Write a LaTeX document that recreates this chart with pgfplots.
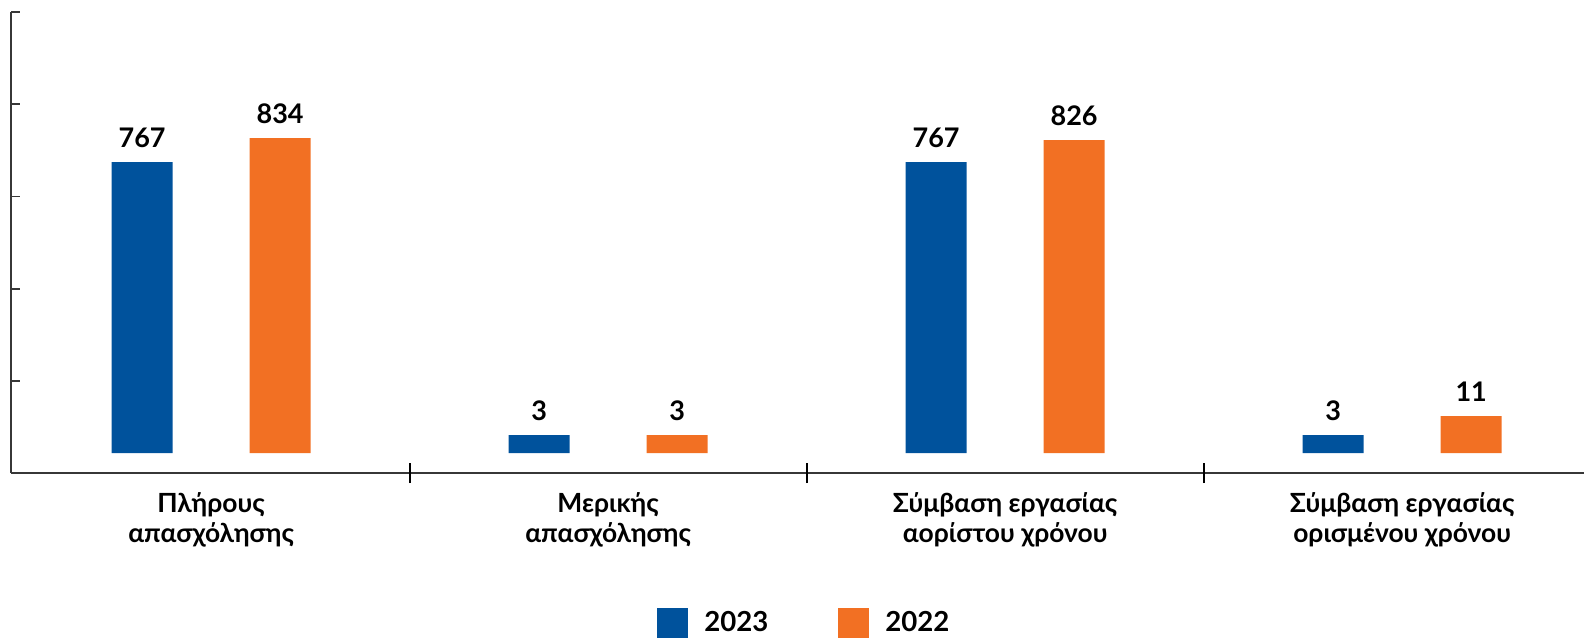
\documentclass[border=0pt]{standalone}
\usepackage{fontspec}
\setmainfont{Lato}
\usepackage{pgfplots}
\pgfplotsset{compat=1.18}

\definecolor{c2023}{RGB}{0,82,156}
\definecolor{c2022}{RGB}{242,112,35}
\definecolor{axisgray}{RGB}{55,55,55}

\begin{document}
\begin{tikzpicture}
\begin{axis}[
    scale only axis,
    width=786.5pt, height=230.5pt,
    xmin=-0.504, xmax=3.458,
    ymin=-20, ymax=441,
    axis x line*=bottom,
    axis y line*=left,
    axis line style={axisgray, line width=0.9pt},
    ytick={72,164.25,256.5,348.75,441},
    yticklabels={},
    ytick style={axisgray, line width=0.9pt},
    major tick length=4.5pt,
    tick align=inside,
    xtick={0,1,2,3},
    xticklabels={{Πλήρους\\απασχόλησης},{Μερικής\\απασχόλησης},{Σύμβαση εργασίας\\αορίστου χρόνου},{Σύμβαση εργασίας\\ορισμένου χρόνου}},
    xtick style={draw=none},
    extra x ticks={0.5,1.5,2.5},
    extra x tick labels={},
    extra x tick style={xtick style={draw=black, line width=1.1pt}, tick align=center, major tick length=10pt},
    xticklabel style={align=center, font=\bfseries\fontsize{13.2}{15}\selectfont, yshift=-1.5pt},
    ybar,
    bar width=30.5pt,
    point meta=explicit symbolic,
    nodes near coords,
    nodes near coords style={font=\bfseries\fontsize{13.5}{15}\selectfont, anchor=south, yshift=3.5pt, text=black},
    legend style={at={(0.505,-0.325)}, anchor=center, draw=none, legend columns=2,
        font=\bfseries\fontsize{13.8}{16}\selectfont,
        /tikz/every odd column/.append style={column sep=6pt},
        /tikz/every even column/.append style={column sep=33pt}},
]
\addplot[fill=c2023, draw=none, bar shift=-34.5pt,
    legend image code/.code={\fill[c2023] (0pt,-7.5pt) rectangle (15.5pt,7.5pt);}]
    coordinates {(0,291) [767] (1,18) [3] (2,291) [767] (3,18) [3]};
\addlegendentry{2023}
\addplot[fill=c2022, draw=none, bar shift=34.5pt,
    legend image code/.code={\fill[c2022] (0pt,-7.5pt) rectangle (15.5pt,7.5pt);}]
    coordinates {(0,315) [834] (1,18) [3] (2,313) [826] (3,37) [11]};
\addlegendentry{2022}
\end{axis}
\pgfresetboundingbox
\path[use as bounding box] (current axis.south west) ++(-5.5pt,-82.5pt) rectangle ([yshift=6pt]current axis.north east);
\end{tikzpicture}
\end{document}
